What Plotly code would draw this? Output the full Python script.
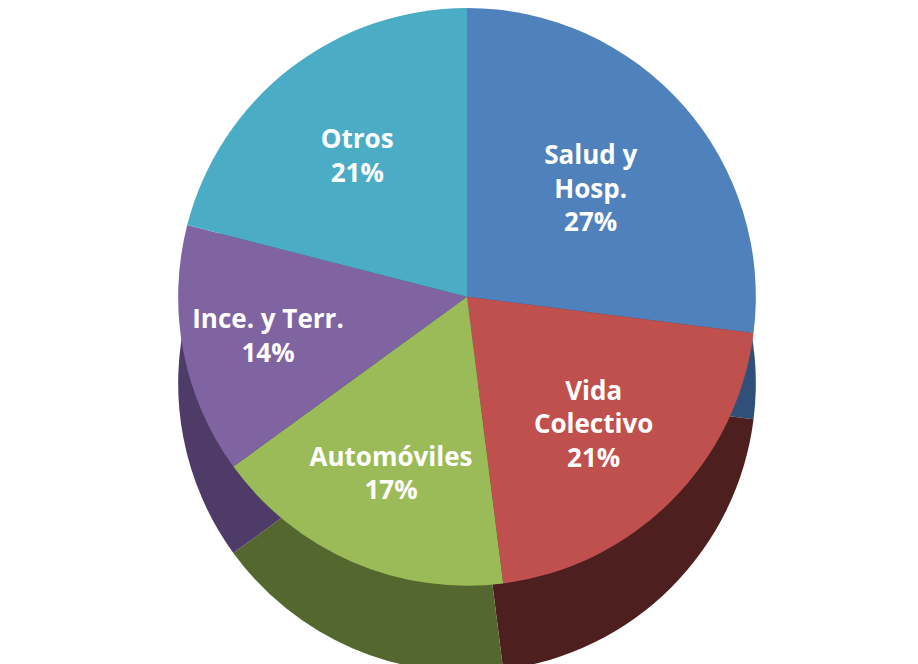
import plotly.graph_objects as go

categories = ["Salud y<br>Hosp.", "Vida<br>Colectivo", "Automóviles", "Ince. y Terr.", "Otros"]
values = [27, 21, 17, 14, 21]
top_colors = ["#4F81BD", "#C0504D", "#9BBB59", "#8064A2", "#4BACC6"]
side_colors = ["#30507A", "#4E1F1F", "#53672F", "#4E3B68", "#2C6878"]

fig = go.Figure()

# darker "side" of the pie, offset downward for a 3D look
fig.add_trace(go.Pie(
    labels=categories, values=values, sort=False, direction="clockwise",
    rotation=0, marker=dict(colors=side_colors, line=dict(width=0)),
    textinfo="none", hoverinfo="skip", showlegend=False,
    domain=dict(x=[0, 1], y=[0, 0.87]),
))

# top surface
fig.add_trace(go.Pie(
    labels=categories, values=values, sort=False, direction="clockwise",
    rotation=0, marker=dict(colors=top_colors, line=dict(width=0)),
    texttemplate="%{label}<br>%{percent:.0%}", textposition="inside",
    insidetextorientation="horizontal",
    textfont=dict(family="Open Sans", size=26, color="white", weight="bold"),
    showlegend=False,
    domain=dict(x=[0, 1], y=[0.13, 1]),
))

fig.update_layout(
    width=918, height=664,
    margin=dict(l=0, r=0, t=0, b=0),
    paper_bgcolor="white", plot_bgcolor="white",
    uniformtext=dict(minsize=20, mode="show"),
)

fig.write_html("out.html")
